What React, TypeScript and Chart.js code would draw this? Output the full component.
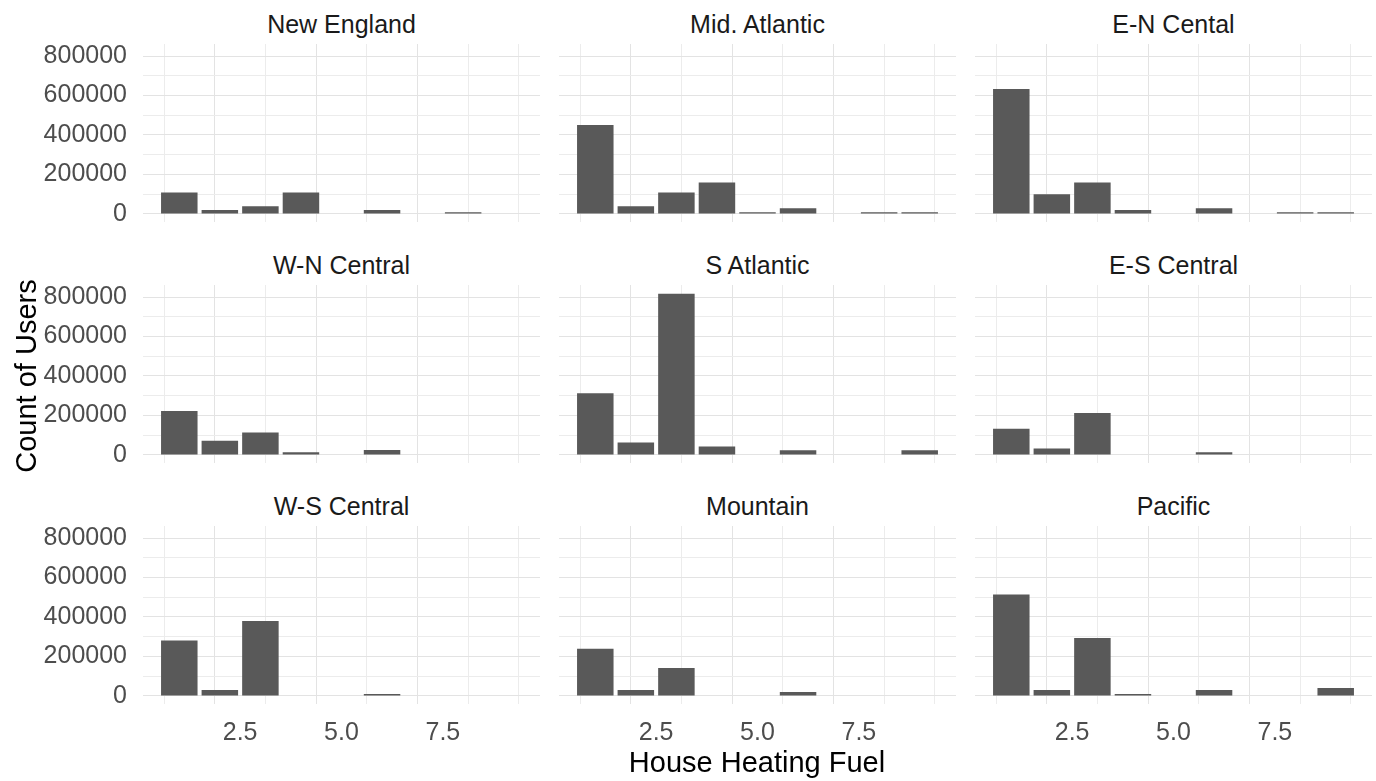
import React, { useEffect, useRef } from 'react';
import { Chart, registerables } from 'chart.js';

Chart.register(...registerables);

// ---------- data ----------
const regions = [
  'New England', 'Mid. Atlantic', 'E-N Cental',
  'W-N Central', 'S Atlantic', 'E-S Central',
  'W-S Central', 'Mountain', 'Pacific',
];
const fuelCodes = [1, 2, 3, 4, 5, 6, 7, 8, 9];

const newEngland = [109000, 20000, 39000, 109000, null, 20000, null, 8000, null];
const midAtlantic = [451000, 39000, 109000, 159000, 8000, 29000, null, 8000, 8000];
const enCentral = [633000, 99000, 159000, 20000, null, 29000, null, 8000, 8000];
const wnCentral = [222000, 72000, 113000, 13000, null, 25000, null, null, null];
const sAtlantic = [313000, 63000, 817000, 42000, null, 23000, null, null, 23000];
const esCentral = [132000, 32000, 213000, null, null, 13000, null, null, null];
const wsCentral = [281000, 30000, 380000, null, null, 10000, null, null, null];
const mountain = [239000, 30000, 141000, null, null, 20000, null, null, null];
const pacific = [514000, 30000, 293000, 10000, null, 30000, null, null, 40000];

const seriesByRegion = [
  newEngland, midAtlantic, enCentral,
  wnCentral, sAtlantic, esCentral,
  wsCentral, mountain, pacific,
];

const xTickValues = [1.25, 2.5, 3.75, 5, 6.25, 7.5, 8.75];
const xTickLabels = ['', '2.5', '', '5.0', '', '7.5', ''];
const yTickValues = [0, 100000, 200000, 300000, 400000, 500000, 600000, 700000, 800000];
const yTickLabels = ['0', '', '200000', '', '400000', '', '600000', '', '800000'];

const xAxisTitle = 'House Heating Fuel';
const yAxisTitle = 'Count of Users';

// ---------- layout ----------
const X_MIN = 0.105;
const X_MAX = 9.895;
const Y_MIN = -41000;
const Y_MAX = 861000;

const PLOT_W = 397;
const PLOT_H = 178;
const COL_LEFT = [143, 559, 975];
const ROW_TOP = [44, 285, 526];
const Y_AXIS_W = 143;
const X_AXIS_H = 50;

const FONT = '"Liberation Sans", Arial, Helvetica, sans-serif';
const BAR_COLOR = '#595959';
const GRID_MAJOR = '#E3E3E3';
const GRID_MINOR = '#ECECEC';

function Panel({ index }: { index: number }) {
  const ref = useRef<HTMLCanvasElement | null>(null);
  const row = Math.floor(index / 3);
  const col = index % 3;
  const showY = col === 0;
  const showX = row === 2;
  const left = showY ? COL_LEFT[col] - Y_AXIS_W : COL_LEFT[col];
  const width = PLOT_W + (showY ? Y_AXIS_W : 0);
  const height = PLOT_H + (showX ? X_AXIS_H : 0);

  useEffect(() => {
    const canvas = ref.current;
    if (!canvas) return;
    const values = seriesByRegion[index];
    const data = fuelCodes
      .map((x, i) => ({ x, y: values[i] }))
      .filter((p) => p.y !== null);

    const zeroPad = (s: any) => {
      s.paddingTop = 0;
      s.paddingBottom = 0;
      s.paddingLeft = 0;
      s.paddingRight = 0;
    };

    const chart = new Chart(canvas, {
      type: 'bar',
      data: {
        datasets: [
          {
            label: regions[index],
            data: data as any,
            backgroundColor: BAR_COLOR,
            borderWidth: 0,
            barPercentage: 0.9,
            categoryPercentage: 1,
          },
        ],
      },
      options: {
        responsive: false,
        animation: false,
        devicePixelRatio: 1,
        layout: { padding: 0 },
        plugins: {
          legend: { display: false },
          title: { display: false },
          tooltip: { enabled: false },
        },
        scales: {
          x: {
            type: 'linear',
            min: X_MIN,
            max: X_MAX,
            bounds: 'data',
            offset: false,
            border: { display: false },
            afterBuildTicks: (s: any) => {
              s.ticks = xTickValues.map((v) => ({ value: v }));
            },
            afterFit: (s: any) => {
              s.height = showX ? X_AXIS_H : 0;
              zeroPad(s);
            },
            grid: {
              drawTicks: false,
              color: (c: any) => (c.tick && c.tick.value % 2.5 === 0 ? GRID_MAJOR : GRID_MINOR),
              lineWidth: 1,
            },
            ticks: {
              display: showX,
              autoSkip: false,
              maxRotation: 0,
              padding: 14,
              color: '#4D4D4D',
              font: { family: FONT, size: 25 },
              callback: (v: any) => {
                const i = xTickValues.indexOf(Number(v));
                return i >= 0 ? xTickLabels[i] : '';
              },
            },
          },
          y: {
            type: 'linear',
            min: Y_MIN,
            max: Y_MAX,
            bounds: 'data',
            border: { display: false },
            afterBuildTicks: (s: any) => {
              s.ticks = yTickValues.map((v) => ({ value: v }));
            },
            afterFit: (s: any) => {
              s.width = showY ? Y_AXIS_W : 0;
              zeroPad(s);
            },
            grid: {
              drawTicks: false,
              color: (c: any) => (c.tick && c.tick.value % 200000 === 0 ? GRID_MAJOR : GRID_MINOR),
              lineWidth: 1,
            },
            ticks: {
              display: showY,
              autoSkip: false,
              padding: 16,
              color: '#4D4D4D',
              font: { family: FONT, size: 25 },
              callback: (v: any) => {
                const i = yTickValues.indexOf(Number(v));
                return i >= 0 ? yTickLabels[i] : '';
              },
            },
          },
        },
      },
    });
    return () => chart.destroy();
  }, [index]);

  return (
    <>
      <div
        style={{
          position: 'absolute',
          left: COL_LEFT[col],
          width: PLOT_W,
          top: ROW_TOP[row] - 36,
          height: 32,
          lineHeight: '32px',
          textAlign: 'center',
          fontFamily: FONT,
          fontSize: 25,
          color: '#1A1A1A',
          whiteSpace: 'nowrap',
        }}
      >
        {regions[index]}
      </div>
      <canvas
        ref={ref}
        width={width}
        height={height}
        style={{ position: 'absolute', left, top: ROW_TOP[row], width, height }}
      />
    </>
  );
}

export default function App() {
  return (
    <div
      style={{
        position: 'absolute',
        left: 0,
        top: 0,
        width: 1376,
        height: 781,
        background: '#FFFFFF',
        overflow: 'hidden',
      }}
    >
      {regions.map((_, i) => (
        <Panel key={i} index={i} />
      ))}
      <div
        style={{
          position: 'absolute',
          left: 26 - 200,
          top: 376 - 20,
          width: 400,
          height: 40,
          lineHeight: '40px',
          textAlign: 'center',
          transform: 'rotate(-90deg)',
          fontFamily: FONT,
          fontSize: 29,
          color: '#000000',
          whiteSpace: 'nowrap',
        }}
      >
        {yAxisTitle}
      </div>
      <div
        style={{
          position: 'absolute',
          left: 757 - 300,
          top: 762 - 20,
          width: 600,
          height: 40,
          lineHeight: '40px',
          textAlign: 'center',
          fontFamily: FONT,
          fontSize: 29,
          color: '#000000',
          whiteSpace: 'nowrap',
        }}
      >
        {xAxisTitle}
      </div>
    </div>
  );
}
